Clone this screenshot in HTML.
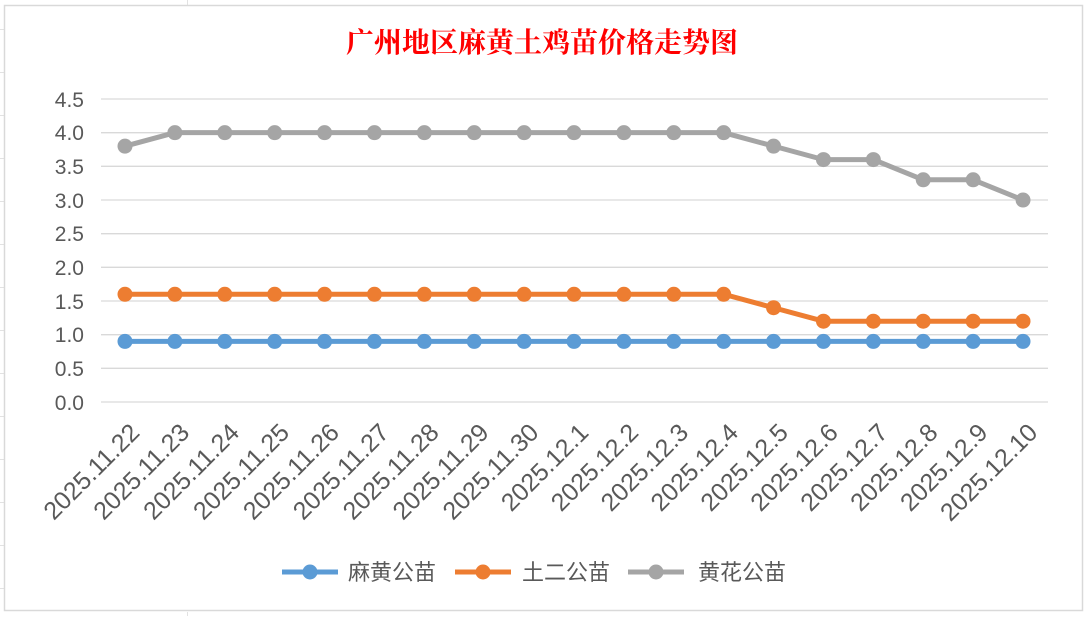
<!DOCTYPE html>
<html><head><meta charset="utf-8"><style>
body{margin:0;background:#fff;}
svg text{font-family:"Liberation Sans","Noto Sans CJK SC",sans-serif;}
</style></head><body>
<svg width="1087" height="616" xmlns="http://www.w3.org/2000/svg">
<rect x="0" y="0" width="1087" height="616" fill="#fff"/>
<g stroke="#e2e2e2" stroke-width="1">
<line x1="0" y1="29.5" x2="4" y2="29.5"/><line x1="0" y1="72.5" x2="4" y2="72.5"/><line x1="0" y1="115.5" x2="4" y2="115.5"/><line x1="0" y1="158.5" x2="4" y2="158.5"/><line x1="0" y1="201.5" x2="4" y2="201.5"/><line x1="0" y1="244.5" x2="4" y2="244.5"/><line x1="0" y1="287.5" x2="4" y2="287.5"/><line x1="0" y1="330.5" x2="4" y2="330.5"/><line x1="0" y1="373.5" x2="4" y2="373.5"/><line x1="0" y1="416.5" x2="4" y2="416.5"/><line x1="0" y1="459.5" x2="4" y2="459.5"/><line x1="0" y1="502.5" x2="4" y2="502.5"/><line x1="0" y1="545.5" x2="4" y2="545.5"/><line x1="0" y1="588.5" x2="4" y2="588.5"/>
<line x1="187.5" y1="0" x2="187.5" y2="5"/><line x1="187.5" y1="612" x2="187.5" y2="616"/>
</g>
<rect x="4.5" y="5.5" width="1078" height="605" fill="#fff" stroke="#d9d9d9" stroke-width="1.5"/>
<text x="542" y="52" text-anchor="middle" fill="#ff0000" font-size="28" font-weight="bold" style="font-family:'Noto Serif CJK SC',serif">广州地区麻黄土鸡苗价格走势图</text>
<g stroke="#d9d9d9" stroke-width="1.3">
<line x1="101" y1="99" x2="1048" y2="99"/><line x1="101" y1="132.7" x2="1048" y2="132.7"/><line x1="101" y1="166.3" x2="1048" y2="166.3"/><line x1="101" y1="200" x2="1048" y2="200"/><line x1="101" y1="233.7" x2="1048" y2="233.7"/><line x1="101" y1="267.3" x2="1048" y2="267.3"/><line x1="101" y1="301" x2="1048" y2="301"/><line x1="101" y1="334.7" x2="1048" y2="334.7"/><line x1="101" y1="368.3" x2="1048" y2="368.3"/><line x1="101" y1="402" x2="1048" y2="402"/>
</g>
<g fill="#595959" font-size="21" text-anchor="end">
<text x="84" y="107">4.5</text><text x="84" y="140">4.0</text><text x="84" y="174">3.5</text><text x="84" y="208">3.0</text><text x="84" y="241">2.5</text><text x="84" y="275">2.0</text><text x="84" y="309">1.5</text><text x="84" y="342">1.0</text><text x="84" y="376">0.5</text><text x="84" y="410">0.0</text>
</g>
<g id="pts"></g>
<g fill="#595959" font-size="25" text-anchor="end" id="xl"></g>
<g id="leg">
<line x1="282" y1="572" x2="338" y2="572" stroke="#5b9bd5" stroke-width="5"/><circle cx="310" cy="572" r="7.5" fill="#5b9bd5"/>
<text x="348" y="580" font-size="22" fill="#595959">麻黄公苗</text>
<line x1="455" y1="572" x2="511" y2="572" stroke="#ed7d31" stroke-width="5"/><circle cx="483" cy="572" r="7.5" fill="#ed7d31"/>
<text x="522" y="580" font-size="22" fill="#595959">土二公苗</text>
<line x1="628" y1="572" x2="684" y2="572" stroke="#a5a5a5" stroke-width="5"/><circle cx="656" cy="572" r="7.5" fill="#a5a5a5"/>
<text x="698" y="580" font-size="22" fill="#595959">黄花公苗</text>
</g>
</svg>
<script>
var ns="http://www.w3.org/2000/svg";
var labels=["2025.11.22","2025.11.23","2025.11.24","2025.11.25","2025.11.26","2025.11.27","2025.11.28","2025.11.29","2025.11.30","2025.12.1","2025.12.2","2025.12.3","2025.12.4","2025.12.5","2025.12.6","2025.12.7","2025.12.8","2025.12.9","2025.12.10"];
var s=[[0.9,0.9,0.9,0.9,0.9,0.9,0.9,0.9,0.9,0.9,0.9,0.9,0.9,0.9,0.9,0.9,0.9,0.9,0.9],[1.6,1.6,1.6,1.6,1.6,1.6,1.6,1.6,1.6,1.6,1.6,1.6,1.6,1.4,1.2,1.2,1.2,1.2,1.2],[3.8,4,4,4,4,4,4,4,4,4,4,4,4,3.8,3.6,3.6,3.3,3.3,3.0]];
var c=["#5b9bd5","#ed7d31","#a5a5a5"];
function X(i){return 125+i*49.89;}function Y(v){return 402-v*67.33;}
var g=document.getElementById("pts");
for(var k=0;k<3;k++){var d="";for(var i=0;i<19;i++)d+=(i?"L":"M")+X(i)+" "+Y(s[k][i]);
var p=document.createElementNS(ns,"path");p.setAttribute("d",d);p.setAttribute("stroke",c[k]);p.setAttribute("stroke-width","5");p.setAttribute("fill","none");p.setAttribute("stroke-linejoin","round");g.appendChild(p);
for(var i=0;i<19;i++){var ci=document.createElementNS(ns,"circle");ci.setAttribute("cx",X(i));ci.setAttribute("cy",Y(s[k][i]));ci.setAttribute("r","7.5");ci.setAttribute("fill",c[k]);g.appendChild(ci);}}
var xl=document.getElementById("xl");
for(var i=0;i<19;i++){var t=document.createElementNS(ns,"text");var x=X(i)+16,y=434;t.setAttribute("x",x);t.setAttribute("y",y);t.setAttribute("transform","rotate(-45 "+x+" "+y+")");t.textContent=labels[i];xl.appendChild(t);}
</script>
</body></html>
